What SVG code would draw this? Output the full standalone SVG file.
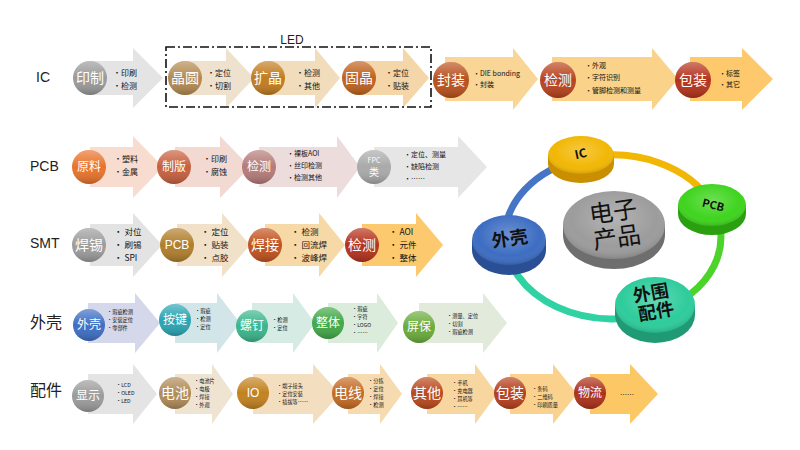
<svg xmlns="http://www.w3.org/2000/svg" width="800" height="450" viewBox="0 0 800 450">
<defs>
<linearGradient id="sh" x1="0" y1="0" x2="0" y2="1">
<stop offset="0" stop-color="#fff" stop-opacity="0.35"/>
<stop offset="0.5" stop-color="#fff" stop-opacity="0"/>
<stop offset="1" stop-color="#000" stop-opacity="0.22"/>
</linearGradient>
<radialGradient id="dk" cx="0.5" cy="0.4" r="0.6">
<stop offset="0" stop-color="#fff" stop-opacity="0.25"/>
<stop offset="0.7" stop-color="#fff" stop-opacity="0"/>
<stop offset="1" stop-color="#000" stop-opacity="0.15"/>
</radialGradient>
</defs>
<style>
.lbl{font-family:"Liberation Sans","Noto Sans CJK SC",sans-serif;font-size:14px;fill:#222}
.lblc{font-family:"Noto Sans CJK SC",sans-serif;font-size:16px;fill:#222}
.ct{font-family:"Noto Sans CJK SC",sans-serif;fill:#fff;text-anchor:middle;font-size:14px}
.cts{font-family:"Noto Sans CJK SC",sans-serif;fill:#fff;text-anchor:middle;font-size:12px}
.b8{font-family:"Noto Sans CJK SC",sans-serif;fill:#111;font-size:8px}
.b7{font-family:"Noto Sans CJK SC","Liberation Sans",sans-serif;fill:#111;font-size:7px}
.b6{font-family:"Noto Sans CJK SC","Liberation Sans",sans-serif;fill:#111;font-size:5.2px}
.b9{font-family:"Noto Sans CJK SC",sans-serif;fill:#111;font-size:8.5px}
.ov{fill:url(#sh)}
.dt{font-family:"Noto Sans CJK SC","Liberation Sans",sans-serif;fill:#111;font-weight:bold;text-anchor:middle}
.ring{fill:none;stroke-width:7}
</style>

<!-- Row labels -->
<g id="labels">
<text class="lbl" x="36" y="82">IC</text>
<text class="lbl" x="30" y="171">PCB</text>
<text class="lbl" x="30" y="248">SMT</text>
<text class="lblc" x="30" y="328">外壳</text>
<text class="lblc" x="30" y="396">配件</text>
</g>

<!-- IC row arrows -->
<g id="ic-arrows">
<polygon fill="#e4e4e4" points="88,61 133,61 133,48 163,78 133,108 133,95 88,95"/>
<polygon fill="#eee2cf" points="184,61 226,61 226,48 254,78 226,108 226,95 184,95"/>
<polygon fill="#f1dcbb" points="268,61 315,61 315,48 340,78 315,108 315,95 268,95"/>
<polygon fill="#f4d6a8" points="358,61 403,61 403,48 429,78 403,108 403,95 358,95"/>
<polygon fill="#f9d596" points="445,57 513,57 513,48 538,79 513,110 513,101 445,101"/>
<polygon fill="#fbd28a" points="552,57 652,57 652,48 678,79 652,110 652,101 552,101"/>
<polygon fill="#fdc96c" points="690,57 742,57 742,48 773,79 742,110 742,101 690,101"/>
</g>
<g id="led-box">
<rect x="166" y="47" width="265" height="60" fill="none" stroke="#111" stroke-width="1.6" stroke-dasharray="9,3,2,3"/>
<text class="lbl" x="292" y="44" text-anchor="middle" style="font-size:12px">LED</text>
</g>
<g id="ic-yinzhi"><circle cx="90" cy="78" r="17" fill="#9a9a9a"/><circle cx="90" cy="78" r="17" class="ov"/><text class="ct" x="90" y="83">印制</text>
<text class="b8" x="113" y="76">•印刷</text><text class="b8" x="113" y="89">•检测</text></g>
<g id="ic-jingyuan"><circle cx="185" cy="78" r="17" fill="#b48a50"/><circle cx="185" cy="78" r="17" class="ov"/><text class="ct" x="185" y="83">晶圆</text>
<text class="b8" x="207" y="76">•定位</text><text class="b8" x="207" y="89">•切割</text></g>
<g id="ic-kuojing"><circle cx="268" cy="78" r="17" fill="#c27c1f"/><circle cx="268" cy="78" r="17" class="ov"/><text class="ct" x="268" y="83">扩晶</text>
<text class="b8" x="296" y="76">•检测</text><text class="b8" x="296" y="89">•其他</text></g>
<g id="ic-gujing"><circle cx="359" cy="78" r="17" fill="#c0621c"/><circle cx="359" cy="78" r="17" class="ov"/><text class="ct" x="359" y="83">固晶</text>
<text class="b8" x="385" y="76">•定位</text><text class="b8" x="385" y="89">•贴装</text></g>
<g id="ic-fengzhuang"><circle cx="451" cy="80" r="18" fill="#b9501d"/><circle cx="451" cy="80" r="18" class="ov"/><text class="ct" x="451" y="85">封装</text>
<text class="b7" x="473" y="76">•DIE bonding</text><text class="b7" x="473" y="87">•封装</text></g>
<g id="ic-jiance"><circle cx="558" cy="80" r="18" fill="#b8431d"/><circle cx="558" cy="80" r="18" class="ov"/><text class="ct" x="558" y="85">检测</text>
<text class="b7" x="585" y="68">•外观</text><text class="b7" x="585" y="80">•字符识别</text><text class="b7" x="585" y="93">•管脚检测和测量</text></g>
<g id="ic-baozhuang"><circle cx="693" cy="80" r="18" fill="#b5321b"/><circle cx="693" cy="80" r="18" class="ov"/><text class="ct" x="693" y="85">包装</text>
<text class="b7" x="719" y="76">•标签</text><text class="b7" x="719" y="87">•其它</text></g>

<!-- PCB row -->
<g id="pcb-arrows">
<polygon fill="#f8dccf" points="90,147 133,147 133,136 163,167 133,198 133,187 90,187"/>
<polygon fill="#f2d9d2" points="175,147 220,147 220,136 250,167 220,198 220,187 175,187"/>
<polygon fill="#ecdcdc" points="259,147 337,147 337,136 360,167 337,198 337,187 259,187"/>
<polygon fill="#e6e6e6" points="374,147 458,147 458,136 487,167 458,198 458,187 374,187"/>
</g>
<g id="pcb-yuanliao"><circle cx="89" cy="167" r="17" fill="#e8732b"/><circle cx="89" cy="167" r="17" class="ov"/><text class="cts" x="89" y="171">原料</text>
<text class="b8" x="114" y="162">•塑料</text><text class="b8" x="114" y="175">•金属</text></g>
<g id="pcb-zhiban"><circle cx="174" cy="167" r="17" fill="#c6603e"/><circle cx="174" cy="167" r="17" class="ov"/><text class="cts" x="174" y="171">制版</text>
<text class="b8" x="203" y="162">•印刷</text><text class="b8" x="203" y="175">•腐蚀</text></g>
<g id="pcb-jiance"><circle cx="259" cy="167" r="17" fill="#b47b78"/><circle cx="259" cy="167" r="17" class="ov"/><text class="cts" x="259" y="171">检测</text>
<text class="b7" x="287" y="156">•裸板AOI</text><text class="b7" x="287" y="168">•丝印检测</text><text class="b7" x="287" y="180">•检测其他</text></g>
<g id="pcb-fpc"><circle cx="374" cy="167" r="17" fill="#a9a9a9"/><circle cx="374" cy="167" r="17" class="ov"/><text class="cts" x="374" y="163" style="font-size:7px">FPC</text><text class="cts" x="374" y="176" style="font-size:10px">类</text>
<text class="b7" x="404" y="157">•定位、测量</text><text class="b7" x="404" y="169">•缺陷检测</text><text class="b7" x="404" y="181">•……</text></g>

<!-- SMT row -->
<g id="smt-arrows">
<polygon fill="#e3e3e3" points="90,224 133,224 133,213 162,245 133,277 133,266 90,266"/>
<polygon fill="#f1e1c8" points="177,224 222,224 222,213 250,245 222,277 222,266 177,266"/>
<polygon fill="#f6d9a6" points="265,224 319,224 319,213 345,245 319,277 319,266 265,266"/>
<polygon fill="#fcc96e" points="362,224 416,224 416,213 443,245 416,277 416,266 362,266"/>
</g>
<g id="smt-hanxi"><circle cx="89" cy="245" r="17" fill="#9c9c9c"/><circle cx="89" cy="245" r="17" class="ov"/><text class="ct" x="89" y="250">焊锡</text>
<text class="b9" x="114" y="235">• 对位</text><text class="b9" x="114" y="248">• 刷锡</text><text class="b9" x="114" y="261">• SPI</text></g>
<g id="smt-pcb"><circle cx="177" cy="245" r="17" fill="#b07e2b"/><circle cx="177" cy="245" r="17" class="ov"/><text class="cts" x="177" y="249" style="font-family:'Liberation Sans',sans-serif">PCB</text>
<text class="b9" x="201" y="235">• 定位</text><text class="b9" x="201" y="248">• 贴装</text><text class="b9" x="201" y="261">• 点胶</text></g>
<g id="smt-hanjie"><circle cx="265" cy="245" r="17" fill="#c1521f"/><circle cx="265" cy="245" r="17" class="ov"/><text class="ct" x="265" y="250">焊接</text>
<text class="b9" x="291" y="235">• 检测</text><text class="b9" x="291" y="248">• 回流焊</text><text class="b9" x="291" y="261">• 波峰焊</text></g>
<g id="smt-jiance"><circle cx="362" cy="245" r="17" fill="#b5311b"/><circle cx="362" cy="245" r="17" class="ov"/><text class="ct" x="362" y="250">检测</text>
<text class="b9" x="389" y="235">• AOI</text><text class="b9" x="389" y="248">• 元件</text><text class="b9" x="389" y="261">• 整体</text></g>

<!-- 外壳 row -->
<g id="shell-arrows">
<polygon fill="#d5d8ea" points="88,303 135,303 135,293 160,323 135,353 135,343 88,343"/>
<polygon fill="#d2e6e9" points="175,303 217,303 217,293 240,323 217,353 217,343 175,343"/>
<polygon fill="#d6ebe4" points="252,303 293,303 293,293 315,323 293,353 293,343 252,343"/>
<polygon fill="#dcecdc" points="328,303 377,303 377,293 398,323 377,353 377,343 328,343"/>
<polygon fill="#e2ebdb" points="419,303 483,303 483,293 507,323 483,353 483,343 419,343"/>
</g>
<g id="shell-waike"><circle cx="89" cy="325" r="16" fill="#3d6ec4"/><circle cx="89" cy="325" r="16" class="ov"/><text class="cts" x="89" y="329">外壳</text>
<text class="b6" x="107" y="314">•瑕疵检测</text><text class="b6" x="107" y="322">•安装定位</text><text class="b6" x="107" y="330">•零部件</text></g>
<g id="shell-anjian"><circle cx="175" cy="320" r="16" fill="#2aa5b3"/><circle cx="175" cy="320" r="16" class="ov"/><text class="cts" x="175" y="324">按键</text>
<text class="b6" x="195" y="313">•瑕疵</text><text class="b6" x="195" y="321">•检测</text><text class="b6" x="195" y="329">•定位</text></g>
<g id="shell-luoding"><circle cx="252" cy="326" r="16" fill="#3ab58b"/><circle cx="252" cy="326" r="16" class="ov"/><text class="cts" x="252" y="330">螺钉</text>
<text class="b6" x="272" y="322">•检测</text><text class="b6" x="272" y="330">•定位</text></g>
<g id="shell-zhengti"><circle cx="328" cy="323" r="16" fill="#41a847"/><circle cx="328" cy="323" r="16" class="ov"/><text class="cts" x="328" y="327">整体</text>
<text class="b6" x="352" y="311">•瑕疵</text><text class="b6" x="352" y="319">•字符</text><text class="b6" x="352" y="327">•LOGO</text><text class="b6" x="352" y="335">•……</text></g>
<g id="shell-pingbao"><circle cx="419" cy="327" r="16" fill="#6aab3b"/><circle cx="419" cy="327" r="16" class="ov"/><text class="cts" x="419" y="331">屏保</text>
<text class="b6" x="447" y="318">•测量、定位</text><text class="b6" x="447" y="326">•切割</text><text class="b6" x="447" y="334">•瑕疵检测</text></g>

<!-- 配件 row -->
<g id="part-arrows">
<polygon fill="#e4e4e4" points="88,374 133,374 133,364 157,394 133,424 133,414 88,414"/>
<polygon fill="#efe3d1" points="175,374 212,374 212,364 233,394 212,424 212,414 175,414"/>
<polygon fill="#f3dfc0" points="253,374 313,374 313,364 340,394 313,424 313,414 253,414"/>
<polygon fill="#f6dbb0" points="348,374 380,374 380,364 402,394 380,424 380,414 348,414"/>
<polygon fill="#f8d6a0" points="427,374 475,374 475,364 497,394 475,424 475,414 427,414"/>
<polygon fill="#fad28d" points="510,374 553,374 553,364 577,394 553,424 553,414 510,414"/>
<polygon fill="#fcc865" points="590,374 630,374 630,364 658,394 630,424 630,414 590,414"/>
</g>
<g id="part-xianshi"><circle cx="88" cy="396" r="16" fill="#9b9b9b"/><circle cx="88" cy="396" r="16" class="ov"/><text class="cts" x="88" y="400">显示</text>
<text class="b6" x="116" y="387">•LCD</text><text class="b6" x="116" y="395">•OLED</text><text class="b6" x="116" y="403">•LED</text></g>
<g id="part-dianchi"><circle cx="175" cy="393" r="16" fill="#b08b57"/><circle cx="175" cy="393" r="16" class="ov"/><text class="ct" x="175" y="398">电池</text>
<text class="b6" x="194" y="383">•电池片</text><text class="b6" x="194" y="391">•电极</text><text class="b6" x="194" y="399">•焊接</text><text class="b6" x="194" y="407">•外观</text></g>
<g id="part-io"><circle cx="253" cy="393" r="16" fill="#c2811f"/><circle cx="253" cy="393" r="16" class="ov"/><text class="cts" x="253" y="397" style="font-family:'Liberation Sans',sans-serif">IO</text>
<text class="b6" x="277" y="388">•端子接头</text><text class="b6" x="277" y="396">•定位安装</text><text class="b6" x="277" y="404">•插拔等……</text></g>
<g id="part-dianxian"><circle cx="348" cy="393" r="16" fill="#c46a23"/><circle cx="348" cy="393" r="16" class="ov"/><text class="ct" x="348" y="398">电线</text>
<text class="b6" x="368" y="383">•分拣</text><text class="b6" x="368" y="391">•定位</text><text class="b6" x="368" y="399">•焊接</text><text class="b6" x="368" y="407">•检测</text></g>
<g id="part-qita"><circle cx="427" cy="393" r="16" fill="#b9481d"/><circle cx="427" cy="393" r="16" class="ov"/><text class="ct" x="427" y="398">其他</text>
<text class="b6" x="452" y="385">•手机</text><text class="b6" x="452" y="393">•充电器</text><text class="b6" x="452" y="401">•耳机等</text><text class="b6" x="452" y="409">•……</text></g>
<g id="part-baozhuang"><circle cx="510" cy="393" r="16" fill="#b53f1c"/><circle cx="510" cy="393" r="16" class="ov"/><text class="ct" x="510" y="398">包装</text>
<text class="b6" x="532" y="391">•条码</text><text class="b6" x="532" y="399">•二维码</text><text class="b6" x="532" y="407">•印刷质量</text></g>
<g id="part-wuliu"><circle cx="590" cy="393" r="16" fill="#ad301a"/><circle cx="590" cy="393" r="16" class="ov"/><text class="cts" x="590" y="397">物流</text>
<text class="b7" x="620" y="397">……</text></g>

<!-- Cycle diagram -->
<g id="ring">
<path class="ring" stroke="#f2b705" d="M581.4,158.6 A108,82 0 0 1 712.4,205"/>
<path class="ring" stroke="#4cd42a" d="M712.4,205 A108,82 0 0 1 658.6,311.3"/>
<path class="ring" stroke="#2fd3a3" d="M658.6,311.3 A108,82 0 0 1 505.1,239.9"/>
<path class="ring" stroke="#4575c4" d="M505.1,239.9 A108,82 0 0 1 581.4,158.6"/>
</g>
<g id="disc-center">
<ellipse cx="614" cy="235" rx="51" ry="34" fill="#6e6e6e"/><rect x="563" y="225" width="102" height="10" fill="#6e6e6e"/>
<ellipse cx="614" cy="225" rx="51" ry="34" fill="#9c9c9c"/><ellipse cx="614" cy="225" rx="51" ry="34" fill="url(#dk)"/>
<text class="dt" x="615" y="220" style="font-size:24px;font-weight:normal" transform="rotate(-8 615 225)">电子</text>
<text class="dt" x="615" y="246" style="font-size:24px;font-weight:normal" transform="rotate(-8 615 225)">产品</text>
</g>
<g id="disc-ic">
<ellipse cx="581" cy="164" rx="33" ry="19" fill="#c98f00"/><rect x="548" y="155" width="66" height="9" fill="#c98f00"/>
<ellipse cx="581" cy="155" rx="33" ry="19" fill="#f2b705"/><ellipse cx="581" cy="155" rx="33" ry="19" fill="url(#dk)"/>
<text class="dt" x="581" y="158" style="font-size:12px" transform="rotate(-12 581 155)">IC</text>
</g>
<g id="disc-pcb">
<ellipse cx="712" cy="214" rx="34" ry="21" fill="#2aa010"/><rect x="678" y="205" width="68" height="9" fill="#2aa010"/>
<ellipse cx="712" cy="205" rx="34" ry="21" fill="#3fd41e"/><ellipse cx="712" cy="205" rx="34" ry="21" fill="url(#dk)"/>
<text class="dt" x="713" y="209" style="font-size:11px" transform="rotate(14 713 206)">PCB</text>
</g>
<g id="disc-waiwei">
<ellipse cx="655" cy="315" rx="40" ry="28" fill="#1f9a75"/><rect x="615" y="305" width="80" height="10" fill="#1f9a75"/>
<ellipse cx="655" cy="305" rx="40" ry="28" fill="#2ecc9c"/><ellipse cx="655" cy="305" rx="40" ry="28" fill="url(#dk)"/>
<text class="dt" x="653" y="299" style="font-size:18px" transform="rotate(-10 655 305)">外围</text>
<text class="dt" x="655" y="318" style="font-size:18px" transform="rotate(-10 655 305)">配件</text>
</g>
<g id="disc-waike">
<ellipse cx="509" cy="250" rx="37" ry="25" fill="#2b4f94"/><rect x="472" y="240" width="74" height="10" fill="#2b4f94"/>
<ellipse cx="509" cy="240" rx="37" ry="25" fill="#3d6dc2"/><ellipse cx="509" cy="240" rx="37" ry="25" fill="url(#dk)"/>
<text class="dt" x="510" y="245" style="font-size:18px" transform="rotate(-8 510 240)">外壳</text>
</g>
</svg>
